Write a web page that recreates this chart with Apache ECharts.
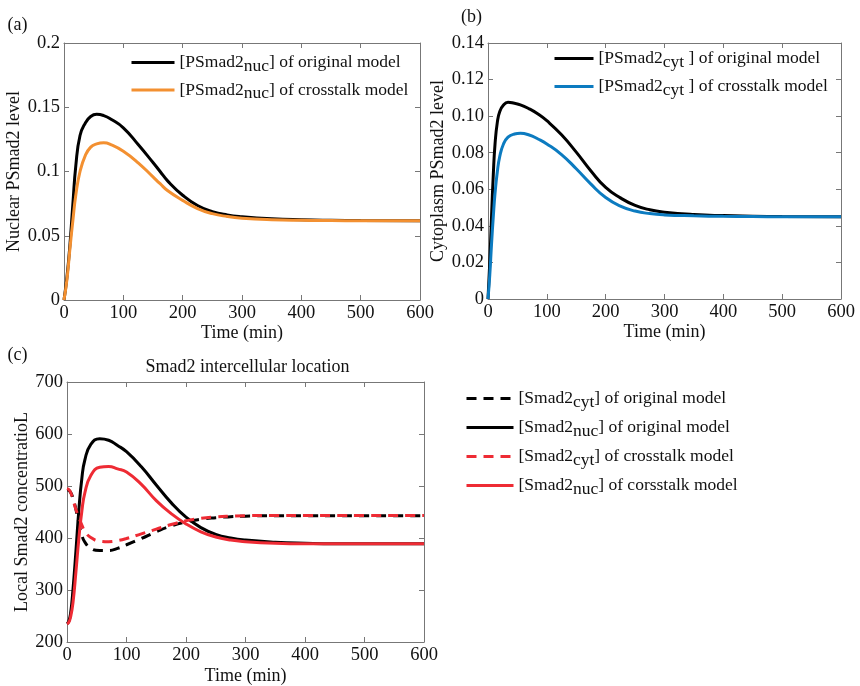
<!DOCTYPE html>
<html><head><meta charset="utf-8">
<script src="https://cdn.jsdelivr.net/npm/echarts@6/dist/echarts.min.js"></script>
<style>html,body{margin:0;padding:0;background:#fff}#c{width:860px;height:686px}</style>
</head><body><div id="c"></div>
<script>
// ---------- data ----------
const timeA = [0,5,10,15,20,27,36,45,55,67,80,100,125,150,162,175,200,225,250,275,300,350,400,450,500,600];
const nucOriginalA  = [0,0.018,0.043,0.075,0.105,0.128,0.1378,0.1428,0.1445,0.1435,0.1405,0.134,0.121,0.107,0.1,0.0925,0.0815,0.0735,0.0688,0.0662,0.0648,0.0632,0.0624,0.062,0.0618,0.0617];
const nucCrosstalkA = [0,0.016,0.04,0.062,0.082,0.1,0.1125,0.119,0.1215,0.1224,0.1208,0.1158,0.1068,0.0958,0.0905,0.085,0.0775,0.0712,0.0672,0.065,0.0637,0.0625,0.062,0.0618,0.0617,0.0617];

const timeB = [0,3,6,9,12,16,20,26,34,45,55,70,85,100,125,150,175,200,225,250,275,300,350,400,450,500,600];
const cytOriginalB  = [0,0.02,0.045,0.068,0.085,0.097,0.1025,0.106,0.1076,0.107,0.1062,0.104,0.1012,0.0975,0.0898,0.0803,0.07,0.061,0.0553,0.0512,0.0488,0.0475,0.0462,0.0456,0.0453,0.0451,0.045];
const cytCrosstalkB = [0,0.013,0.03,0.045,0.058,0.07,0.078,0.0845,0.0885,0.0902,0.0906,0.0897,0.0875,0.0848,0.079,0.0712,0.0628,0.0555,0.0508,0.0481,0.0467,0.046,0.0455,0.0452,0.0451,0.045,0.045];

const timeC = [0,3,6,10,15,20,25,30,40,55,70,85,100,125,150,175,200,225,250,275,300,350,400,450,500,600];
const smadCytOriginal  = [493,492,488,477,455,428,405,392,380,376,376,380,387,399,412,423,431,436,439,441,442,443,443,443,443,443];
const smadNucOriginal  = [235,240,255,300,375,455,515,550,580,591,588,578,566,537,502,468,440,420,407,400,396,392,390,389,389,389];
const smadCytCrosstalk = [495,493,488,474,455,440,425,413,401,394,393,395,399,408,417,426,433,438,440.5,442,443,443.5,443.5,443.5,443.5,443.5];
const smadNucCrosstalk = [235,238,248,275,335,400,452,487,520,536,537.5,533,527,503,472,447,427,412,402,396,393,390,389,389,389,389];

const xTickLabels = ['0','100','200','300','400','500','600'];
const yTickLabelsA = ['0','0.05','0.1','0.15','0.2'];
const yTickLabelsB = ['0','0.02','0.04','0.06','0.08','0.10','0.12','0.14'];
const yTickLabelsC = ['200','300','400','500','600','700'];

const namesA = ['[PSmad2{s|nuc}] of original model','[PSmad2{s|nuc}] of crosstalk model'];
const namesB = ['[PSmad2{s|cyt} ] of original model','[PSmad2{s|cyt} ] of crosstalk model'];
const namesC = ['[Smad2{s|cyt}] of original model','[Smad2{s|nuc}] of original model','[Smad2{s|cyt}] of crosstalk model','[Smad2{s|nuc}] of corsstalk model'];

// ---------- style ----------
const FONT = 'Liberation Serif';
const FS = 18;
const FL = 17.5;
const FT = 18.5;
const AXIS = '#777';
const TXT = '#111';
const ORANGE = '#F39031', BLUE = '#0C7BC0', RED = '#EE2B34', BLACK = '#000';

function fmtFrom(labels, min, step) {
  return v => { const i = Math.round((v - min) / step); return labels[i] !== undefined ? labels[i] : ''; };
}

function axesFor(g, yMin, yMax, yStep, yLabels, yNameText, yGap, xGap) {
  const line = {show:true, onZero:false, lineStyle:{color:AXIS, width:1}};
  const tick = {show:true, inside:true, length:5, lineStyle:{color:AXIS, width:1}};
  const lbl = {color:TXT, fontFamily:FONT, fontSize:FT};
  return {
    x: [
      {gridIndex:g, type:'value', min:0, max:600, interval:100, position:'bottom',
       axisLine:line, axisTick:tick, splitLine:{show:false},
       axisLabel:Object.assign({margin:4, formatter: fmtFrom(xTickLabels, 0, 100)}, lbl),
       name:'Time (min)', nameLocation:'middle', nameGap:xGap,
       nameTextStyle:{color:TXT, fontFamily:FONT, fontSize:FS}},
      {gridIndex:g, type:'value', min:0, max:600, interval:100, position:'top',
       axisLine:line, axisTick:tick, splitLine:{show:false}, axisLabel:{show:false}}
    ],
    y: [
      {gridIndex:g, type:'value', min:yMin, max:yMax, interval:yStep, position:'left',
       axisLine:line, axisTick:tick, splitLine:{show:false},
       axisLabel:Object.assign({margin:4, formatter: fmtFrom(yLabels, yMin, yStep)}, lbl),
       name:yNameText, nameLocation:'middle', nameGap:yGap,
       nameTextStyle:{color:TXT, fontFamily:FONT, fontSize:FS}},
      {gridIndex:g, type:'value', min:yMin, max:yMax, interval:yStep, position:'right',
       axisLine:line, axisTick:tick, splitLine:{show:false}, axisLabel:{show:false}}
    ]
  };
}

const aA = axesFor(0, 0, 0.2, 0.05, yTickLabelsA, 'Nuclear PSmad2 level', 36, 24);
const aB = axesFor(1, 0, 0.14, 0.02, yTickLabelsB, 'Cytoplasm PSmad2 level', 38, 24);
const aC = axesFor(2, 200, 700, 100, yTickLabelsC, 'Local Smad2 concentratioL', 36, 25);

function ser(name, xi, times, vals, color, dashed) {
  return {
    name, type:'line', xAxisIndex:xi, yAxisIndex:xi,
    data: times.map((t, i) => [t, vals[i]]),
    symbol:'none', showSymbol:false, smooth:0.5,
    lineStyle:{color, width:3, type: dashed ? [10, 7] : 'solid'},
    itemStyle:{color}, animation:false
  };
}

const legendText = {
  color:TXT, fontFamily:FONT, fontSize:FL, lineHeight:20,
  rich:{ s:{fontFamily:FONT, fontSize:FL, color:TXT, lineHeight:20, padding:[7,0,0,0]} }
};

function legend(data, left, top, w, gap) {
  return {data, orient:'vertical', left, top, itemWidth:w, itemHeight:14, itemGap:gap,
    selectedMode:false, textStyle:legendText, lineStyle:{width:3},
    itemStyle:{color:'rgba(0,0,0,0)', borderWidth:0, opacity:0}, padding:0};
}

const option = {
  animation:false,
  backgroundColor:'#fff',
  grid:[
    {left:64, top:43, width:356, height:257},
    {left:488, top:43, width:353, height:256},
    {left:67, top:382, width:357, height:260}
  ],
  xAxis:[...aA.x, ...aB.x, ...aC.x],
  yAxis:[...aA.y, ...aB.y, ...aC.y],
  legend:[
    legend(namesA, 130, 50, 43, 2.5),
    legend(namesB, 553, 46, 39, 3),
    legend(namesC, 465, 386, 47, 4)
  ],
  graphic:[
    {type:'text', x:17.5, y:25, style:{text:'(a)', fontFamily:FONT, fontSize:FS, fill:TXT, align:'center', verticalAlign:'middle'}},
    {type:'text', x:471.5, y:17, style:{text:'(b)', fontFamily:FONT, fontSize:FS, fill:TXT, align:'center', verticalAlign:'middle'}},
    {type:'text', x:17.5, y:355, style:{text:'(c)', fontFamily:FONT, fontSize:FS, fill:TXT, align:'center', verticalAlign:'middle'}},
    {type:'text', x:247.5, y:367, style:{text:'Smad2 intercellular location', fontFamily:FONT, fontSize:FS, fill:TXT, align:'center', verticalAlign:'middle'}}
  ],
  series:[
    ser(namesA[0], 0, timeA, nucOriginalA, BLACK, false),
    ser(namesA[1], 0, timeA, nucCrosstalkA, ORANGE, false),
    ser(namesB[0], 2, timeB, cytOriginalB, BLACK, false),
    ser(namesB[1], 2, timeB, cytCrosstalkB, BLUE, false),
    ser(namesC[0], 4, timeC, smadCytOriginal, BLACK, true),
    ser(namesC[1], 4, timeC, smadNucOriginal, BLACK, false),
    ser(namesC[2], 4, timeC, smadCytCrosstalk, RED, true),
    ser(namesC[3], 4, timeC, smadNucCrosstalk, RED, false)
  ]
};

const chart = echarts.init(document.getElementById('c'), null, {renderer:'canvas'});
chart.setOption(option);
</script>
</body></html>
